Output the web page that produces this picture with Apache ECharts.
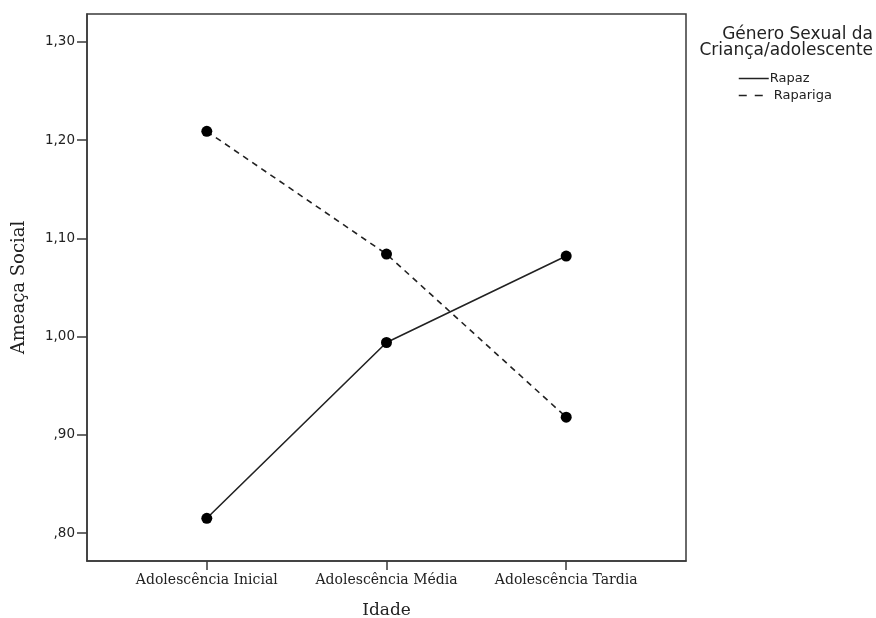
<!DOCTYPE html>
<html><head><meta charset="utf-8">
<script src="https://cdn.jsdelivr.net/npm/echarts@6/dist/echarts.min.js"></script>
<style>html,body{margin:0;padding:0;background:#fff}#c{width:876px;height:618px}</style>
</head><body><div id="c"></div>
<script>
const categories = ['Adolescência Inicial', 'Adolescência Média', 'Adolescência Tardia'];
const rapaz = [0.815, 0.994, 1.082];
const rapariga = [1.209, 1.084, 0.918];
const yTicks = [0.8, 0.9, 1.0, 1.1, 1.2, 1.3];
const seriesNames = ['Rapaz', 'Rapariga'];

const chart = echarts.init(document.getElementById('c'), null, {renderer: 'canvas'});
const fmtY = v => { const s = v.toFixed(2).replace('.', ','); return s.startsWith('0') ? s.slice(1) : s; };
const toPts = arr => arr.map((v, i) => [i, v]);
const axisCol = '#3a3a3a';
chart.setOption({
  animation: false,
  grid: {left: 87, right: 190, top: 14, bottom: 57, show: true, borderColor: axisCol, borderWidth: 1.5, outerBoundsMode: 'none', containLabel: false},
  xAxis: {
    type: 'value', min: -2/3, max: 8/3,
    name: 'Idade', nameLocation: 'middle', nameGap: 41,
    nameTextStyle: {fontFamily: 'DejaVu Serif', fontSize: 17, color: '#222'},
    axisLine: {show: true, onZero: false, lineStyle: {color: axisCol, width: 1.5}},
    axisTick: {show: true, customValues: [0, 1, 2], length: 9, inside: false, lineStyle: {color: axisCol, width: 1.5}},
    axisLabel: {customValues: [0, 1, 2], formatter: v => categories[Math.round(v)], fontFamily: 'DejaVu Serif', fontSize: 14, color: '#222', margin: 12},
    splitLine: {show: false}
  },
  yAxis: {
    type: 'value', min: 0.7715, max: 1.3285,
    name: 'Ameaça Social', nameLocation: 'middle', nameGap: 59, nameRotate: 90,
    nameTextStyle: {fontFamily: 'DejaVu Serif', fontSize: 18, color: '#222'},
    axisLine: {show: true, onZero: false, lineStyle: {color: axisCol, width: 1.5}},
    axisTick: {show: true, customValues: yTicks, length: 10, lineStyle: {color: axisCol, width: 1.5}},
    axisLabel: {customValues: yTicks, formatter: fmtY, fontFamily: 'DejaVu Sans', fontSize: 13.5, color: '#222', margin: 12},
    splitLine: {show: false}
  },
  legend: {
    orient: 'vertical', left: 733, top: 67, itemWidth: 30, itemHeight: 14, itemGap: 4,
    textStyle: {fontFamily: 'DejaVu Sans', fontSize: 13, color: '#222'},
    itemStyle: {opacity: 0},
    data: [
      {name: seriesNames[0], textStyle: {padding: [0, 0, 0, -4]}, lineStyle: {type: 'solid', width: 1.5, color: '#222'}},
      {name: seriesNames[1], lineStyle: {type: [8, 8], width: 1.5, color: '#222'}}
    ]
  },
  graphic: [{
    type: 'text', x: 873, y: 27,
    style: {text: 'Género Sexual da\nCriança/adolescente', font: '17px "DejaVu Sans"', fill: '#222', align: 'right', verticalAlign: 'top', lineHeight: 16}
  }],
  series: [
    {name: seriesNames[0], type: 'line', data: toPts(rapaz), symbol: 'circle', symbolSize: 11,
     itemStyle: {color: '#000'}, lineStyle: {color: '#222', width: 1.6, type: 'solid'}},
    {name: seriesNames[1], type: 'line', data: toPts(rapariga), symbol: 'circle', symbolSize: 11,
     itemStyle: {color: '#000'}, lineStyle: {color: '#222', width: 1.6, type: [6, 5]}}
  ]
});
</script></body></html>
